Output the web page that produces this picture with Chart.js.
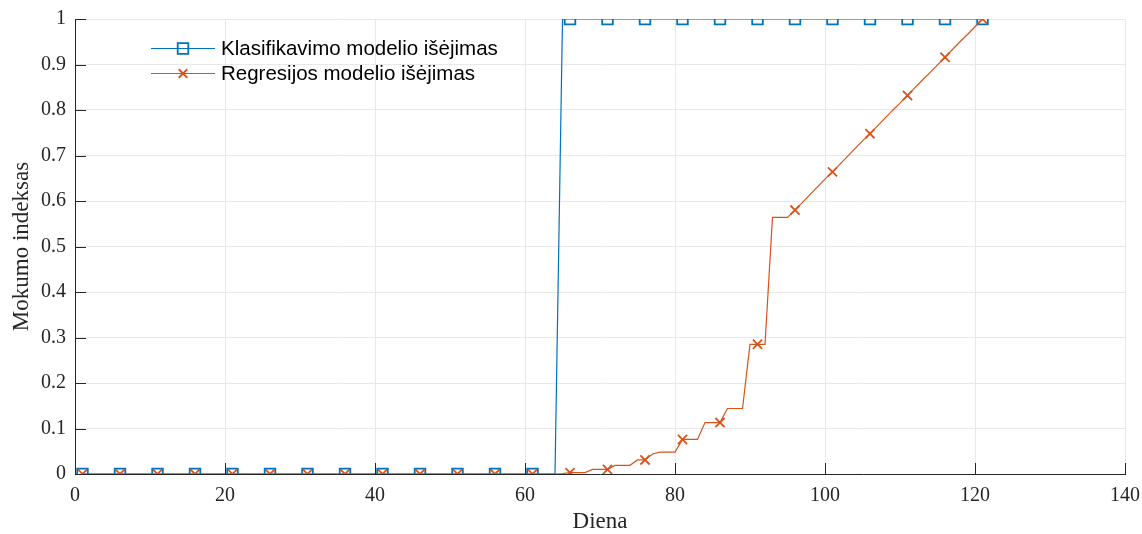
<!DOCTYPE html>
<html lang="lt">
<head>
<meta charset="utf-8">
<title>Mokumo indeksas</title>
<script src="https://cdn.jsdelivr.net/npm/chart.js@4.4.1/dist/chart.umd.min.js"></script>
<style>
  html, body { margin: 0; padding: 0; background: #ffffff; }
  #wrap { width: 1142px; height: 534px; position: relative; }
</style>
</head>
<body>
<div id="wrap"><canvas id="chart"></canvas></div>
<script>
// Day numbers (x axis)
const days = [
  1, 2, 3, 4, 5, 6, 7, 8, 9, 10, 11, 12, 13, 14, 15, 16, 17, 18, 19, 20,
  21, 22, 23, 24, 25, 26, 27, 28, 29, 30, 31, 32, 33, 34, 35, 36, 37, 38, 39, 40,
  41, 42, 43, 44, 45, 46, 47, 48, 49, 50, 51, 52, 53, 54, 55, 56, 57, 58, 59, 60,
  61, 62, 63, 64, 65, 66, 67, 68, 69, 70, 71, 72, 73, 74, 75, 76, 77, 78, 79, 80,
  81, 82, 83, 84, 85, 86, 87, 88, 89, 90, 91, 92, 93, 94, 95, 96, 97, 98, 99, 100,
  101, 102, 103, 104, 105, 106, 107, 108, 109, 110, 111, 112, 113, 114, 115, 116, 117, 118, 119, 120,
  121
];

// Classification model output per day
const classificationOutput = [
  0, 0, 0, 0, 0, 0, 0, 0, 0, 0, 0, 0, 0, 0, 0, 0, 0, 0, 0, 0,
  0, 0, 0, 0, 0, 0, 0, 0, 0, 0, 0, 0, 0, 0, 0, 0, 0, 0, 0, 0,
  0, 0, 0, 0, 0, 0, 0, 0, 0, 0, 0, 0, 0, 0, 0, 0, 0, 0, 0, 0,
  0, 0, 0, 0, 1, 1, 1, 1, 1, 1, 1, 1, 1, 1, 1, 1, 1, 1, 1, 1,
  1, 1, 1, 1, 1, 1, 1, 1, 1, 1, 1, 1, 1, 1, 1, 1, 1, 1, 1, 1,
  1, 1, 1, 1, 1, 1, 1, 1, 1, 1, 1, 1, 1, 1, 1, 1, 1, 1, 1, 1,
  1
];

// Regression model output per day
const regressionOutput = [
  0, 0, 0, 0, 0, 0, 0, 0, 0, 0, 0, 0, 0, 0, 0, 0, 0, 0, 0, 0,
  0, 0, 0, 0, 0, 0, 0, 0, 0, 0, 0, 0, 0, 0, 0, 0, 0, 0, 0, 0,
  0, 0, 0, 0, 0, 0, 0, 0, 0, 0, 0, 0, 0, 0, 0, 0, 0, 0, 0, 0,
  0, 0, 0, 0, 0.001, 0.003, 0.003, 0.003, 0.010, 0.010, 0.010, 0.019, 0.019, 0.019, 0.031, 0.031, 0.044, 0.048, 0.048, 0.048,
  0.076, 0.076, 0.076, 0.113, 0.113, 0.113, 0.144, 0.144, 0.144, 0.285, 0.285, 0.285, 0.564, 0.564, 0.564, 0.580, 0.597, 0.614, 0.631, 0.648,
  0.664, 0.681, 0.698, 0.715, 0.732, 0.748, 0.765, 0.782, 0.799, 0.815, 0.832, 0.849, 0.866, 0.882, 0.899, 0.916, 0.933, 0.950, 0.966, 0.983,
  1.000
];

const seriesLabels = ['Klasifikavimo modelio išėjimas', 'Regresijos modelio išėjimas'];
const xTickValues = [0, 20, 40, 60, 80, 100, 120, 140];
const yTickValues = [0, 0.1, 0.2, 0.3, 0.4, 0.5, 0.6, 0.7, 0.8, 0.9, 1];
const yTickLabels = ['0', '0.1', '0.2', '0.3', '0.4', '0.5', '0.6', '0.7', '0.8', '0.9', '1'];
const xTitle = 'Diena';
const yTitle = 'Mokumo indeksas';

const BLUE = '#0072BD';
const ORANGE = '#D95319';
const AXIS = '#262626';
const GRID = '#e8e8e8';
const SERIF = "'Liberation Serif', 'DejaVu Serif', serif";
const SANS = "'Liberation Sans', Arial, Helvetica, sans-serif";

// a marker on every fifth sample
const markerEvery = (r) => (ctx) => (ctx.dataIndex % 5 === 0 ? r : 0);

const toPoints = (ys) => days.map((d, i) => ({ x: d, y: ys[i] }));

// Inward tick marks along the left and bottom axes
const innerTicks = {
  id: 'innerTicks',
  afterDraw(chart) {
    const { ctx, chartArea, scales } = chart;
    ctx.save();
    ctx.strokeStyle = AXIS;
    ctx.lineWidth = 1;
    ctx.beginPath();
    xTickValues.forEach(v => {
      const px = Math.round(scales.x.getPixelForValue(v)) + 0.5;
      ctx.moveTo(px, chartArea.bottom);
      ctx.lineTo(px, chartArea.bottom - 11);
    });
    yTickValues.forEach(v => {
      const py = Math.round(scales.y.getPixelForValue(v)) + 0.5;
      ctx.moveTo(chartArea.left, py);
      ctx.lineTo(chartArea.left + 11, py);
    });
    ctx.stroke();
    ctx.restore();
  }
};

// Legend with line sample and marker, placed inside the plot
const lineLegend = {
  id: 'lineLegend',
  afterDraw(chart) {
    const { ctx } = chart;
    const x0 = 151, x1 = 215, mx = 183, tx = 221;
    const rows = [48, 73];
    ctx.save();
    chart.data.datasets.forEach((ds, i) => {
      const y = rows[i];
      ctx.strokeStyle = ds.borderColor;
      ctx.lineWidth = 1;
      ctx.beginPath();
      ctx.moveTo(x0, y + 0.5);
      ctx.lineTo(x1, y + 0.5);
      ctx.stroke();
      ctx.fillStyle = 'rgba(0,0,0,0)';
      ctx.strokeStyle = ds.pointBorderColor;
      ctx.lineWidth = ds.pointBorderWidth;
      Chart.helpers.drawPoint(ctx, {
        pointStyle: ds.pointStyle,
        radius: ds.legendRadius,
        rotation: 0,
        borderWidth: ds.pointBorderWidth
      }, mx, y + 0.5);
      ctx.fillStyle = '#000000';
      ctx.font = '20.5px ' + SANS;
      ctx.textAlign = 'left';
      ctx.textBaseline = 'middle';
      ctx.fillText(ds.label, tx, y + 1);
    });
    ctx.restore();
  }
};

new Chart(document.getElementById('chart'), {
  type: 'line',
  data: {
    datasets: [
      {
        label: seriesLabels[0],
        data: toPoints(classificationOutput),
        borderColor: BLUE,
        borderWidth: 1.2,
        pointStyle: 'rect',
        pointRadius: markerEvery(7.5),
        legendRadius: 7.5,
        pointBorderColor: BLUE,
        pointBackgroundColor: 'rgba(0,0,0,0)',
        pointBorderWidth: 1.8,
        tension: 0,
        order: 2
      },
      {
        label: seriesLabels[1],
        data: toPoints(regressionOutput),
        borderColor: ORANGE,
        borderWidth: 1.2,
        pointStyle: 'crossRot',
        pointRadius: markerEvery(6.5),
        legendRadius: 6,
        pointBorderColor: ORANGE,
        pointBackgroundColor: ORANGE,
        pointBorderWidth: 1.8,
        tension: 0,
        order: 1
      }
    ]
  },
  options: {
    responsive: true,
    maintainAspectRatio: false,
    animation: false,
    events: [],
    layout: { padding: { top: 19, right: 17, left: 0, bottom: 0 } },
    plugins: {
      legend: { display: false },
      tooltip: { enabled: false }
    },
    scales: {
      x: {
        type: 'linear',
        min: 0,
        max: 140,
        afterBuildTicks: (s) => { s.ticks = xTickValues.map(v => ({ value: v })); },
        afterFit: (s) => { s.height = 60; s.paddingLeft = 0; s.paddingRight = 0; },
        grid: { color: GRID, drawTicks: false },
        border: { display: true, color: AXIS, width: 1 },
        ticks: {
          color: AXIS,
          padding: 10,
          maxRotation: 0,
          font: { family: SERIF, size: 20 },
          callback: (v) => String(v)
        },
        title: {
          display: true,
          text: xTitle,
          color: AXIS,
          font: { family: SERIF, size: 23, lineHeight: 1 },
          padding: { top: 0, bottom: 0.5 }
        }
      },
      y: {
        type: 'linear',
        min: 0,
        max: 1,
        afterBuildTicks: (s) => { s.ticks = yTickValues.map(v => ({ value: v })); },
        afterFit: (s) => { s.width = 75; s.paddingTop = 0; s.paddingBottom = 0; },
        grid: { color: GRID, drawTicks: false },
        border: { display: true, color: AXIS, width: 1 },
        ticks: {
          color: AXIS,
          padding: 9,
          font: { family: SERIF, size: 20 },
          callback: (v, i) => yTickLabels[i]
        },
        title: {
          display: true,
          text: yTitle,
          color: AXIS,
          font: { family: SERIF, size: 23, lineHeight: 1 },
          padding: { top: 10.5, bottom: 0 }
        }
      }
    }
  },
  plugins: [innerTicks, lineLegend]
});
</script>
</body>
</html>
